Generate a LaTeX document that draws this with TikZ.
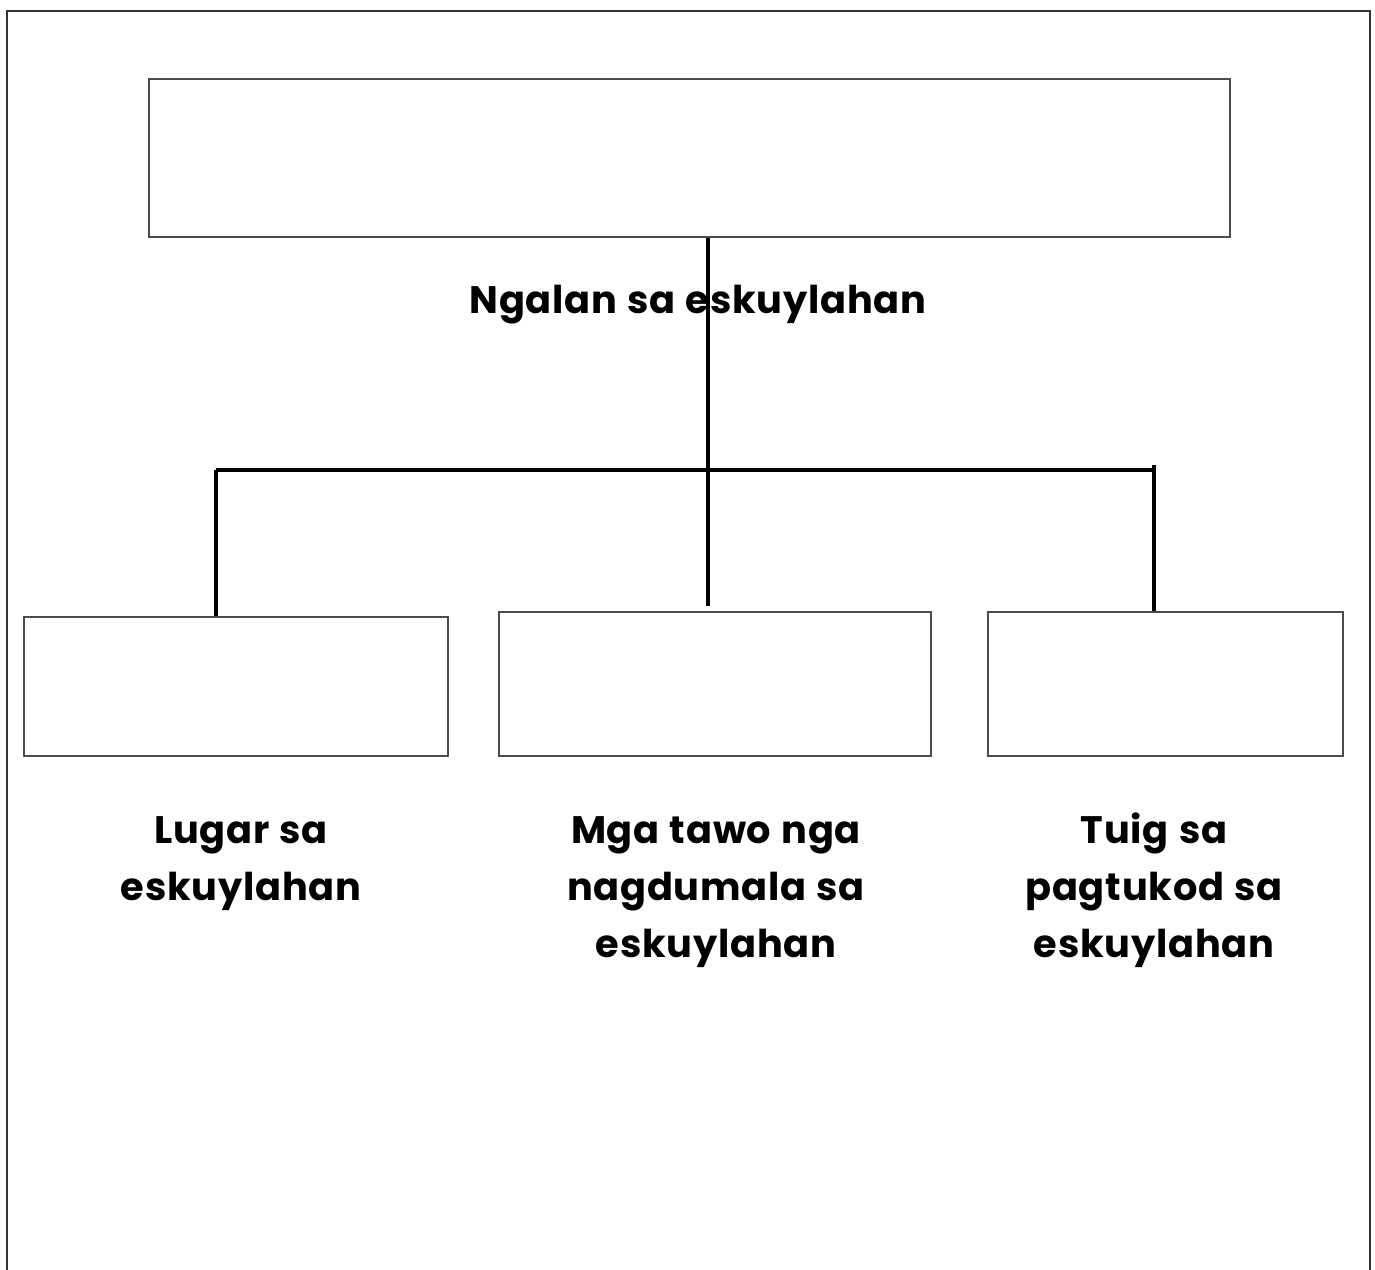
\documentclass[tikz,border=0pt]{standalone}
\usepackage{fontspec}
\setsansfont{Poppins}
\newfontfamily\spacedfont{Poppins}[LetterSpace=2, WordSpace=1.15]
\usepackage{tikz}
\usetikzlibrary{positioning, calc}
\tikzset{
  namebox/.style={
    draw=gray!60!black, line width=0.9pt, fill=white,
    minimum height=3.16cm, minimum width=21.62cm
  },
  leafbox/.style={
    draw=gray!60!black, line width=0.9pt, fill=white,
    minimum height=2.88cm
  },
  treeline/.style={
    line width=2.3pt, color=black
  },
  treelabel/.style={
    font=\spacedfont\bfseries\fontsize{21.8}{32.5}\selectfont,
    align=center, text=black
  },
}

\begin{document}
\begin{tikzpicture}[x=0.02cm, y=-0.02cm]
  \useasboundingbox (0,0) rectangle (1375,1270);

  % Page frame (open at the bottom)
  \draw[line width=1.2pt, gray!40!black] (7,1275) -- (7,11) -- (1370,11) -- (1370,1275);

  % Boxes
  \node[namebox] (school) at (689.5,158) {};
  \node[leafbox, minimum width=8.48cm, minimum height=2.78cm] (place) at (236,686.5) {};
  \node[leafbox, minimum width=8.64cm] (people) at (715,684) {};
  \node[leafbox, minimum width=7.1cm] (year) at (1165.5,684) {};

  % Junctions
  \coordinate (hub) at (708,470);
  \coordinate (jleft) at (216,470);
  \coordinate (jright) at (1154,465);

  % Connectors
  \draw[treeline] (school.south -| hub) -- ([yshift=2.8pt]people.north -| hub);
  \draw[treeline] (jleft) -- (jleft -| jright);
  \draw[treeline] (jleft) -- (jleft |- place.north);
  \draw[treeline] (jright) -- (jright |- year.north);

  % Labels
  \node[treelabel] (schoolname) at (698,305) {Ngalan sa eskuylahan};
  \node[treelabel] (placename) at (241,864) {Lugar sa\\eskuylahan};
  \node[treelabel] (peoplename) at (716,892) {Mga tawo nga\\nagdumala sa\\eskuylahan};
  \node[treelabel] (yearname) at (1154,890) {Tuig sa\\pagtukod sa\\eskuylahan};
\end{tikzpicture}
\end{document}
